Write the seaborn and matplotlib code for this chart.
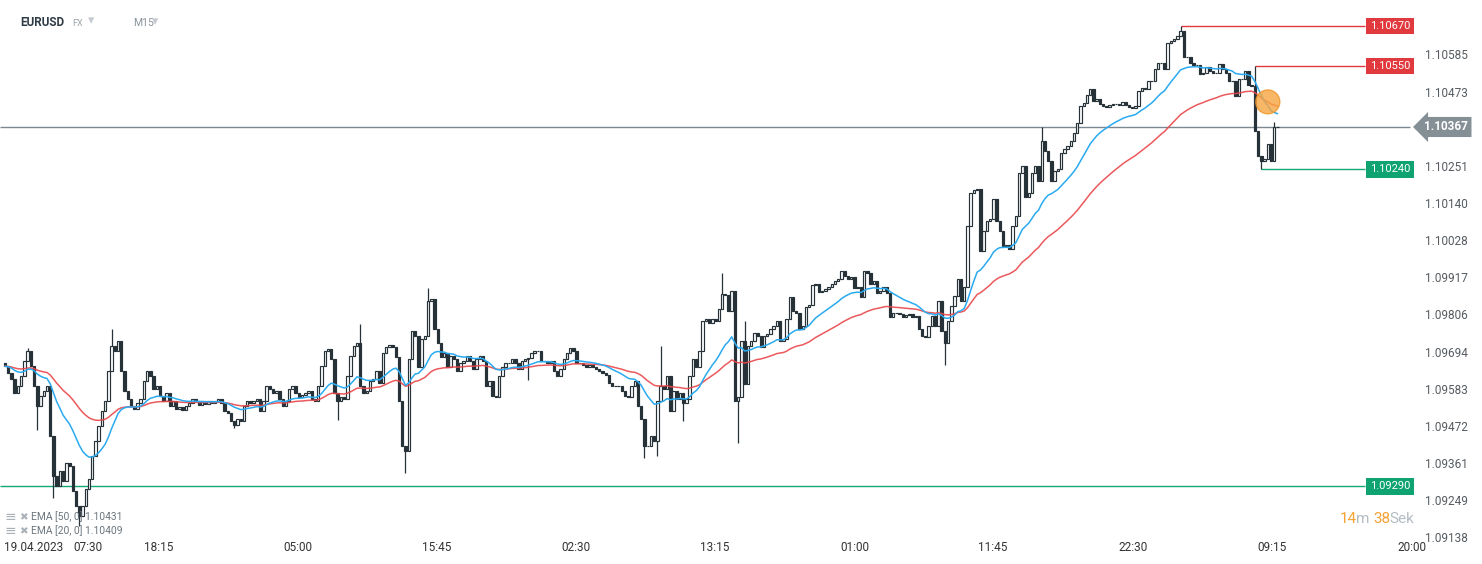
import numpy as np
import pandas as pd
import matplotlib
matplotlib.use("Agg")
import matplotlib.pyplot as plt
import matplotlib.transforms as mtransforms
from matplotlib.patches import Ellipse
import seaborn as sns

# EURUSD M15 closes, oldest first (open of a candle = previous close)
closes = [
    1.09650, 1.09629, 1.09611, 1.09569, 1.09590, 1.09620, 1.09665, 1.09695, 1.09650, 1.09590,
    1.09530, 1.09560, 1.09575, 1.09590, 1.09440, 1.09320, 1.09290, 1.09335, 1.09305, 1.09359,
    1.09350, 1.09275, 1.09230, 1.09200, 1.09230, 1.09281, 1.09311, 1.09380, 1.09425, 1.09470,
    1.09515, 1.09545, 1.09635, 1.09710, 1.09695, 1.09725, 1.09635, 1.09575, 1.09551, 1.09530,
    1.09521, 1.09539, 1.09551, 1.09605, 1.09635, 1.09620, 1.09581, 1.09590, 1.09560, 1.09545,
    1.09569, 1.09530, 1.09545, 1.09521, 1.09527, 1.09518, 1.09530, 1.09539, 1.09551, 1.09545,
    1.09533, 1.09545, 1.09536, 1.09545, 1.09539, 1.09545, 1.09551, 1.09539, 1.09515, 1.09509,
    1.09485, 1.09473, 1.09491, 1.09485, 1.09530, 1.09545, 1.09539, 1.09545, 1.09551, 1.09515,
    1.09545, 1.09590, 1.09581, 1.09569, 1.09575, 1.09551, 1.09530, 1.09545, 1.09581, 1.09590,
    1.09569, 1.09557, 1.09563, 1.09569, 1.09575, 1.09551, 1.09545, 1.09590, 1.09650, 1.09695,
    1.09701, 1.09671, 1.09569, 1.09545, 1.09557, 1.09551, 1.09620, 1.09680, 1.09710, 1.09719,
    1.09590, 1.09569, 1.09575, 1.09605, 1.09611, 1.09635, 1.09599, 1.09689, 1.09707, 1.09713,
    1.09707, 1.09677, 1.09545, 1.09410, 1.09395, 1.09671, 1.09755, 1.09740, 1.09647, 1.09731,
    1.09740, 1.09845, 1.09851, 1.09761, 1.09719, 1.09677, 1.09689, 1.09647, 1.09680, 1.09671,
    1.09635, 1.09659, 1.09665, 1.09680, 1.09665, 1.09641, 1.09671, 1.09680, 1.09665, 1.09590,
    1.09605, 1.09560, 1.09557, 1.09620, 1.09647, 1.09659, 1.09659, 1.09671, 1.09659, 1.09641,
    1.09665, 1.09671, 1.09674, 1.09689, 1.09695, 1.09695, 1.09665, 1.09665, 1.09659, 1.09665,
    1.09635, 1.09620, 1.09641, 1.09671, 1.09689, 1.09704, 1.09695, 1.09659, 1.09659, 1.09653,
    1.09647, 1.09653, 1.09647, 1.09641, 1.09635, 1.09629, 1.09623, 1.09599, 1.09590, 1.09590,
    1.09590, 1.09575, 1.09560, 1.09557, 1.09590, 1.09605, 1.09530, 1.09491, 1.09410, 1.09410,
    1.09440, 1.09425, 1.09545, 1.09590, 1.09581, 1.09620, 1.09515, 1.09575, 1.09551, 1.09569,
    1.09539, 1.09551, 1.09620, 1.09671, 1.09647, 1.09695, 1.09785, 1.09791, 1.09779, 1.09791,
    1.09785, 1.09821, 1.09866, 1.09863, 1.09815, 1.09875, 1.09545, 1.09557, 1.09725, 1.09596,
    1.09710, 1.09725, 1.09749, 1.09740, 1.09707, 1.09740, 1.09746, 1.09761, 1.09770, 1.09785,
    1.09725, 1.09731, 1.09791, 1.09857, 1.09815, 1.09809, 1.09761, 1.09770, 1.09827, 1.09833,
    1.09893, 1.09896, 1.09872, 1.09875, 1.09881, 1.09887, 1.09896, 1.09905, 1.09911, 1.09935,
    1.09920, 1.09911, 1.09917, 1.09884, 1.09887, 1.09857, 1.09935, 1.09929, 1.09896, 1.09905,
    1.09869, 1.09875, 1.09887, 1.09869, 1.09797, 1.09809, 1.09809, 1.09806, 1.09797, 1.09803,
    1.09806, 1.09797, 1.09800, 1.09761, 1.09740, 1.09737, 1.09770, 1.09800, 1.09770, 1.09845,
    1.09755, 1.09719, 1.09785, 1.09830, 1.09860, 1.09911, 1.09845, 1.09887, 1.10070, 1.10169,
    1.10178, 1.10181, 1.09995, 1.10055, 1.10085, 1.10091, 1.10151, 1.10085, 1.10055, 1.10010,
    1.10013, 1.10001, 1.10070, 1.10100, 1.10229, 1.10250, 1.10157, 1.10169, 1.10229, 1.10250,
    1.10205, 1.10325, 1.10295, 1.10265, 1.10205, 1.10235, 1.10241, 1.10289, 1.10301, 1.10310,
    1.10325, 1.10349, 1.10379, 1.10430, 1.10439, 1.10463, 1.10481, 1.10445, 1.10451, 1.10436,
    1.10430, 1.10427, 1.10433, 1.10436, 1.10436, 1.10433, 1.10442, 1.10433, 1.10427, 1.10424,
    1.10430, 1.10475, 1.10484, 1.10481, 1.10505, 1.10505, 1.10541, 1.10559, 1.10559, 1.10541,
    1.10619, 1.10625, 1.10631, 1.10640, 1.10655, 1.10577, 1.10577, 1.10559, 1.10553, 1.10553,
    1.10526, 1.10529, 1.10547, 1.10535, 1.10529, 1.10529, 1.10556, 1.10541, 1.10529, 1.10505,
    1.10505, 1.10460, 1.10511, 1.10511, 1.10535, 1.10493, 1.10490, 1.10355, 1.10280, 1.10265,
    1.10271, 1.10316, 1.10265, 1.10367, 1.10367,
]
first_open = 1.09660

# long wicks: candle index -> extreme
wick_highs = {7: 1.09705, 33: 1.09760, 110: 1.09775, 131: 1.09885, 203: 1.09710,
              222: 1.09930, 229: 1.09785, 321: 1.10367, 364: 1.10670, 387: 1.10550,
              393: 1.10382}
wick_lows = {10: 1.09460, 15: 1.09255, 23: 1.09170, 71: 1.09465, 103: 1.09490,
             124: 1.09330, 162: 1.09610, 198: 1.09375, 202: 1.09380, 210: 1.09485,
             227: 1.09420, 291: 1.09655, 389: 1.10240}

# drawn price levels
level_prices = [1.10670, 1.10550, 1.10240]
level_from = [364, 387, 389]
level_is_resistance = [True, True, False]
support_price = 1.09290
last_price = 1.10367

y_ticks = [1.10585, 1.10473, 1.10251, 1.10140, 1.10028, 1.09917, 1.09806,
           1.09694, 1.09583, 1.09472, 1.09361, 1.09249, 1.09138]
x_tick_pos = [9, 25.7, 47.7, 90.7, 133.7, 176.8, 219.8, 263.2, 305.9, 349.2, 392.3, 435.6]
x_tick_labels = ["19.04.2023", "07:30", "18:15", "05:00", "15:45", "02:30",
                 "13:15", "01:00", "11:45", "22:30", "09:15", "20:00"]
ema_legend = ["EMA [50, 0] 1.10431", "EMA [20, 0] 1.10409"]

sns.set_style("white")
plt.rcParams['font.family'] = ['Roboto', 'DejaVu Sans']

W, H = 1482, 564
fig = plt.figure(figsize=(W / 100, H / 100), dpi=100)
ax = fig.add_axes([0, 27 / H, 1418 / W, 532 / H])

close = np.array(closes)
n = len(close)
idx = np.arange(n)
open_ = np.r_[first_open, close[:-1]]
high = np.maximum(open_, close)
low = np.minimum(open_, close)
for i, v in wick_highs.items():
    high[i] = v
for i, v in wick_lows.items():
    low[i] = v
up = close >= open_

dark = "#263238"
ax.vlines(idx, low, high, color=dark, lw=0.9, zorder=2)
ax.bar(idx[up], (close - open_)[up], bottom=open_[up], width=0.75,
       color="white", edgecolor=dark, linewidth=0.85, zorder=3)
ax.bar(idx[~up], (open_ - close)[~up], bottom=close[~up], width=0.75,
       color=dark, edgecolor=dark, linewidth=0.85, zorder=3)

# moving averages
s = pd.Series(close)
ema = pd.DataFrame({"idx": idx,
                    "ema50": s.ewm(span=50, adjust=False).mean(),
                    "ema20": s.ewm(span=20, adjust=False).mean()})
sns.lineplot(data=ema, x="idx", y="ema50", color="#e9474a", lw=1.1, alpha=0.9, ax=ax, zorder=4)
sns.lineplot(data=ema, x="idx", y="ema20", color="#2aaaf0", lw=1.1, ax=ax, zorder=4)

xmin, xmax = -1.55, 437.5
ax.set_xlim(xmin, xmax)
shift = 1.5 / 33533
ax.set_ylim(1.091418 + shift, 1.107282 + shift)
box_left = 421.1

# horizontal levels
ax.hlines(last_price, xmin, 435, color="#7c8891", lw=1.0, zorder=1)
ax.hlines(support_price, xmin, box_left, color="#14a877", lw=1.0, zorder=1)
for p, start, res in zip(level_prices, level_from, level_is_resistance):
    ax.hlines(p, start, box_left, color="#e0393e" if res else "#14a877", lw=1.0, zorder=1)

# marker where price crossed the averages
e50 = ema["ema50"].iloc[391]
ax.add_patch(Ellipse((391, e50), width=24 / 3.23, height=24 / 33533,
                     facecolor="#f7a540", edgecolor="#f0962a", alpha=0.8, lw=1, zorder=5))

trans = mtransforms.blended_transform_factory(fig.transFigure, ax.transData)
for p, res in zip(level_prices + [support_price], level_is_resistance + [False]):
    ax.text(1390 / W, p, f"{p:.5f}", transform=trans, ha="center", va="center",
            color="white", fontsize=8,
            bbox=dict(boxstyle="square,pad=0.3", fc="#e0393e" if res else "#0ea371", ec="none"),
            zorder=6)
ax.text(1446 / W, last_price, f"{last_price:.5f}", transform=trans, ha="center", va="center",
        color="white", fontsize=8.5, fontweight="bold",
        bbox=dict(boxstyle="larrow,pad=0.3", fc="#858f96", ec="none"), zorder=6)

ax.set_xlabel("")
ax.set_ylabel("")
ax.yaxis.tick_right()
ax.set_yticks(y_ticks)
ax.set_yticklabels([f"{v:.5f}" for v in y_ticks])
ax.set_xticks(x_tick_pos)
ax.set_xticklabels(x_tick_labels)
ax.tick_params(axis="y", length=0, pad=5, labelsize=8.5, labelcolor="#555b60")
ax.tick_params(axis="x", length=0, pad=3, labelsize=8.5, labelcolor="#333333")
for sp in ax.spines.values():
    sp.set_visible(False)

# header
fig.text(20 / W, 1 - 22 / H, "EURUSD", fontsize=8.5, fontweight="bold", color="#2f3b45", va="center")
fig.text(72 / W, 1 - 23 / H, "FX", fontsize=6.5, color="#9aa4ab", va="center")
fig.text(88 / W, 1 - 21 / H, "▾", fontsize=9, color="#c4cacf", va="center")
fig.text(133 / W, 1 - 23 / H, "M15", fontsize=7.5, color="#8a949b", va="center")
fig.text(152 / W, 1 - 22 / H, "▾", fontsize=9, color="#c4cacf", va="center")

# indicator legend
for k, label in enumerate(ema_legend):
    yy = 1 - (517 + 14 * k) / H
    fig.text(5 / W, yy, "≡", fontsize=10, color="#aab2b9", va="center")
    fig.text(19 / W, yy, "✖", fontsize=7.5, color="#aab2b9", va="center")
    fig.text(31 / W, yy, label, fontsize=7.4, color="#6b757d", va="center")

# candle countdown
yc = 1 - 519 / H
for x0, t, c in [(1340, "14", "#f7a234"), (1356, "m", "#b5bcc2"),
                 (1373, "38", "#f7a234"), (1389, "Sek", "#b5bcc2")]:
    fig.text(x0 / W, yc, t, fontsize=11, color=c, va="center")

fig.savefig("out.png", dpi=100)
